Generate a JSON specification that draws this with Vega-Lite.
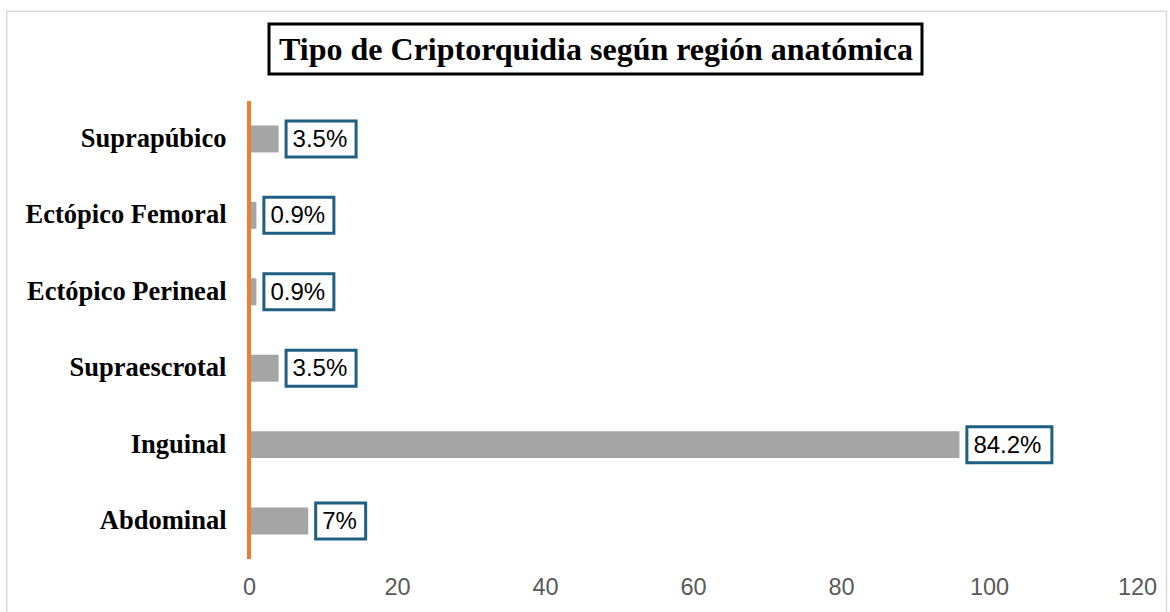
{
  "$schema": "https://vega.github.io/schema/vega-lite/v6.json",
  "padding": {"left": 5, "top": 10, "right": 0, "bottom": 0},
  "background": "white",
  "bounds": "flush",
  "spacing": 28,
  "config": {"view": {"stroke": null}},
  "vconcat": [
    {
      "width": 888,
      "height": 48,
      "data": {"values": [{"t": "Tipo de Criptorquidia según región anatómica"}]},
      "layer": [
        {
          "mark": {"type": "point", "shape": "M-6.863,-0.378H4.735V6.2H-6.863Z", "size": 40000, "filled": false, "fillOpacity": 0, "stroke": "#D9D9D9", "strokeWidth": 1.5, "strokeJoin": "round", "opacity": 1, "strokeOpacity": 1},
          "encoding": {}
        },
        {
          "mark": {"type": "point", "shape": "M-4.24,-0.25H2.29V0.25H-4.24Z", "size": 40000, "filled": true, "fill": "white", "stroke": "black", "strokeWidth": 3, "opacity": 1, "fillOpacity": 1, "strokeOpacity": 1},
          "encoding": {}
        },
        {
          "mark": {"type": "text", "font": "Liberation Serif", "fontWeight": "bold", "fontSize": 32, "color": "black", "dx": -97, "dy": 1},
          "encoding": {"text": {"field": "t"}}
        }
      ]
    },
    {
      "width": 888,
      "height": 458,
      "data": {
        "values": [
          {"region": "Suprapúbico", "n": 4, "label": "3.5%"},
          {"region": "Ectópico Femoral", "n": 1, "label": "0.9%"},
          {"region": "Ectópico Perineal", "n": 1, "label": "0.9%"},
          {"region": "Supraescrotal", "n": 4, "label": "3.5%"},
          {"region": "Inguinal", "n": 96, "label": "84.2%"},
          {"region": "Abdominal", "n": 8, "label": "7%"}
        ]
      },
      "layer": [
        {
          "mark": {"type": "bar", "color": "#A5A5A5"},
          "encoding": {
            "x": {
              "field": "n", "type": "quantitative",
              "scale": {"domain": [0, 120], "nice": false},
              "axis": {"title": null, "grid": false, "domain": false, "ticks": false, "values": [0, 20, 40, 60, 80, 100, 120],
                       "labelFlush": false, "labelOverlap": false,
                       "labelFont": "Liberation Sans", "labelFontSize": 23.5, "labelColor": "#595959", "labelPadding": 16}
            },
            "y": {
              "field": "region", "type": "nominal",
              "sort": ["Suprapúbico", "Ectópico Femoral", "Ectópico Perineal", "Supraescrotal", "Inguinal", "Abdominal"],
              "scale": {"paddingInner": 0.647, "paddingOuter": 0.32},
              "axis": {"title": null, "domain": false, "ticks": false, "labelFont": "Liberation Serif", "labelFontWeight": "bold",
                       "labelFontSize": 26.5, "labelColor": "black", "labelPadding": 23, "labelLimit": 400}
            }
          }
        },
        {
          "mark": {"type": "rule", "color": "#ED7D31", "strokeWidth": 4},
          "encoding": {"x": {"datum": 0, "type": "quantitative"}}
        },
        {
          "mark": {"type": "point", "filled": true, "fill": "white", "stroke": "#1F5F82", "strokeWidth": 3, "size": 7744, "opacity": 1, "fillOpacity": 1, "strokeOpacity": 1},
          "encoding": {
            "x": {"field": "n", "type": "quantitative"},
            "y": {"field": "region", "type": "nominal", "sort": ["Suprapúbico", "Ectópico Femoral", "Ectópico Perineal", "Supraescrotal", "Inguinal", "Abdominal"]},
            "shape": {
              "field": "label", "type": "nominal", "legend": null,
              "scale": {
                "domain": ["84.2%", "3.5%", "0.9%", "7%"],
                "range": ["M0.17,-0.409H2.102V0.409H0.17Z", "M0.17,-0.409H1.761V0.409H0.17Z", "M0.17,-0.409H1.761V0.409H0.17Z", "M0.17,-0.409H1.306V0.409H0.17Z"]
              }
            }
          }
        },
        {
          "mark": {"type": "text", "align": "left", "baseline": "middle", "dx": 14, "dy": 1, "font": "Liberation Sans", "fontSize": 24, "color": "black"},
          "encoding": {
            "x": {"field": "n", "type": "quantitative"},
            "y": {"field": "region", "type": "nominal", "sort": ["Suprapúbico", "Ectópico Femoral", "Ectópico Perineal", "Supraescrotal", "Inguinal", "Abdominal"]},
            "text": {"field": "label"}
          }
        }
      ]
    }
  ]
}
